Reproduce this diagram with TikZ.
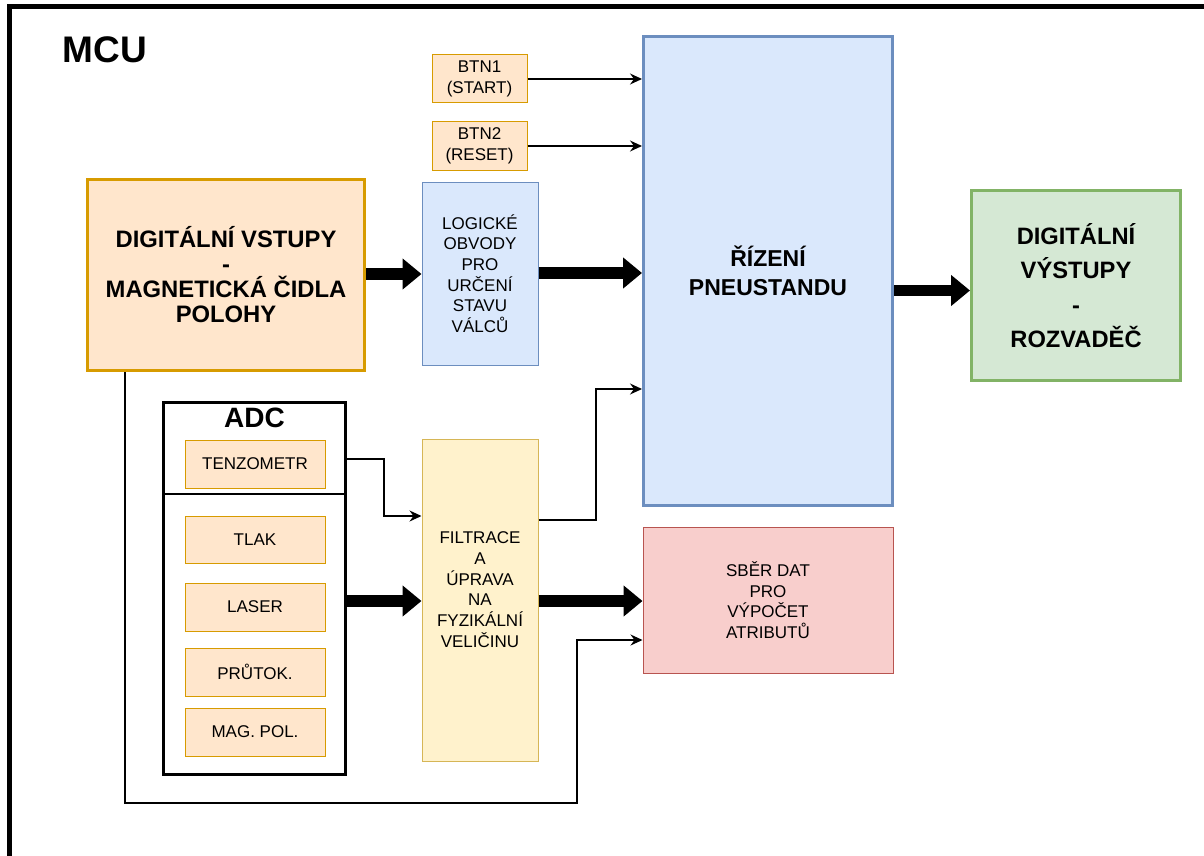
\documentclass[tikz,border=0pt]{standalone}
\usepackage{fontspec}
\setmainfont{Liberation Sans}
\usetikzlibrary{arrows.meta}
\definecolor{orF}{HTML}{FFE6CC}\definecolor{orD}{HTML}{D79B00}
\definecolor{blF}{HTML}{DAE8FC}\definecolor{blD}{HTML}{6C8EBF}
\definecolor{grF}{HTML}{D5E8D4}\definecolor{grD}{HTML}{82B366}
\definecolor{yeF}{HTML}{FFF2CC}\definecolor{yeD}{HTML}{D6B656}
\definecolor{reF}{HTML}{F8CECC}\definecolor{reD}{HTML}{B85450}
\newcommand\myfs{\fontsize{17}{20.7}\selectfont}
\begin{document}
\begin{tikzpicture}[x=1pt,y=-1pt,
  box/.style={draw, rectangle, inner sep=0pt, align=center, font=\myfs, line width=1pt},
  orbox/.style={box, fill=orF, draw=orD},
  blbox/.style={box, fill=blF, draw=blD},
  bigarrow/.style={line width=11.5pt, -{Triangle[width=30pt,length=19pt]}},
  thinarrow/.style={line width=1.3pt, -{Stealth[length=12pt,width=11pt,inset=4pt]}},
  thinline/.style={line width=1.3pt}]
\useasboundingbox (0,0) rectangle (1204,856);
\clip (0,0) rectangle (1204,856);
% outer frame
\draw[line width=5pt] (9.5,6.5) rectangle (1240,900);
\node[font=\fontsize{37}{40}\selectfont\bfseries] (mcu) at (105,50) {MCU};

\node[orbox, line width=3pt, minimum width=277pt, minimum height=191pt,
  font=\fontsize{23.8}{25}\selectfont\bfseries] (din) at (226,275)
  {DIGITÁLNÍ VSTUPY\\-\\MAGNETICKÁ ČIDLA\\POLOHY};
\node[blbox, minimum width=116pt, minimum height=183pt] (logic) at (480,273.5)
  {LOGICKÉ\\OBVODY\\PRO\\URČENÍ\\STAVU\\VÁLCŮ};
\node[orbox, minimum width=95pt, minimum height=48pt] (btn1) at (479.5,79) {BTN1\\(START)};
\node[orbox, minimum width=95pt, minimum height=48pt] (btn2) at (479.5,146) {BTN2\\(RESET)};
\node[blbox, line width=3pt, minimum width=249pt, minimum height=469pt,
  font=\fontsize{23}{29}\selectfont\bfseries] (riz) at (768,271) {ŘÍZENÍ\\PNEUSTANDU};
\node[box, fill=grF, draw=grD, line width=3pt, minimum width=209pt, minimum height=190pt,
  font=\fontsize{23.7}{34.5}\selectfont\bfseries] (vys) at (1076,285.5)
  {DIGITÁLNÍ\\VÝSTUPY\\-\\ROZVADĚČ};

\node[box, draw=black, fill=white, line width=3pt, minimum width=182pt, minimum height=372pt] (adc) at (254.5,588) {};
\node[font=\fontsize{28}{30}\selectfont\bfseries] (adct) at (254.5,418) {ADC};
\draw[thinline] (adc.west |- 0,494) -- (adc.east |- 0,494);
\node[orbox, minimum width=140pt, minimum height=48pt] (tenz) at (255,464) {TENZOMETR};
\node[orbox, minimum width=140pt, minimum height=47pt] (tlak) at (255,539.5) {TLAK};
\node[orbox, minimum width=140pt, minimum height=48pt] (laser) at (255,607) {LASER};
\node[orbox, minimum width=140pt, minimum height=48pt] (prut) at (255,672) {PRŮTOK.};
\node[orbox, minimum width=140pt, minimum height=48pt] (mag) at (255,732) {MAG. POL.};

\node[box, fill=yeF, draw=yeD, minimum width=116pt, minimum height=322pt] (filt) at (480,600)
  {FILTRACE\\A\\ÚPRAVA\\NA\\FYZIKÁLNÍ\\VELIČINU\\\mbox{}};
\node[box, fill=reF, draw=reD, minimum width=250pt, minimum height=146pt] (sber) at (768,600)
  {SBĚR DAT\\PRO\\VÝPOČET\\ATRIBUTŮ};

% thick arrows
\draw[bigarrow] (din.east |- 0,274) -- (logic.west |- 0,274);
\draw[bigarrow] (logic.east |- 0,273) -- (riz.west |- 0,273);
\draw[bigarrow] (riz.east |- 0,290.5) -- (vys.west |- 0,290.5);
\draw[bigarrow] (adc.east |- 0,601) -- (filt.west |- 0,601);
\draw[bigarrow] (filt.east |- 0,601) -- (sber.west |- 0,601);

% thin arrows
\draw[thinarrow] (btn1.east) -- (btn1.east -| riz.west);
\draw[thinarrow] (btn2.east) -- (btn2.east -| riz.west);
\draw[thinarrow] (adc.east |- 0,459) -- (384,459) -- (384,516) -- (filt.west |- 0,516);
\draw[thinarrow] (filt.east |- 0,520) -- (596,520) -- (596,389) -- (riz.west |- 0,389);
\draw[thinarrow] (din.south -| 125,0) -- (125,803) -- (577,803) -- (577,640) -- (sber.west |- 0,640);
\end{tikzpicture}
\end{document}
